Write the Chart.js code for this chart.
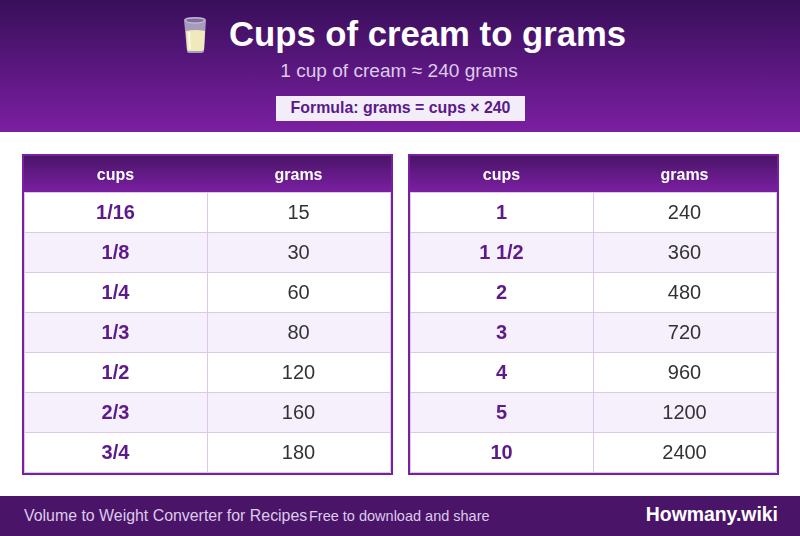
<!DOCTYPE html>
<html><head><meta charset="utf-8">
<script src="https://cdn.jsdelivr.net/npm/chart.js@4"></script>
<style>
html,body{margin:0;padding:0;background:#fff;width:800px;height:536px;overflow:hidden;font-family:"Liberation Sans",Arial,sans-serif}
#hd{position:absolute;left:0;top:0;width:800px;height:132px;background:linear-gradient(180deg,#380f5a,#7b1fa2)}
.t{position:absolute;white-space:nowrap;line-height:1}
#title{left:229px;top:17px;font-size:34.7px;font-weight:700;color:#fff}
#sub{left:0;width:798px;text-align:center;top:61px;font-size:19.1px;color:#dccbeb}
#fbox{position:absolute;left:276px;top:96px;width:249px;height:25px;background:#f3edfa}
#formula{left:276px;width:249px;text-align:center;top:100px;font-size:15.9px;font-weight:700;color:#5a1a8a}
#glass{position:absolute;left:180px;top:14px}
#ft{position:absolute;left:0;top:496px;width:800px;height:40px;background:#4a1568}
#f1{left:24px;top:12px;font-size:15.9px;color:#dccbeb}
#f2{left:309px;top:13px;font-size:14.5px;color:#dccbeb}
#f3{right:22px;top:9px;font-size:19.4px;font-weight:700;color:#fff}
canvas{position:absolute;display:block}
#wa{position:absolute;left:22px;top:154px;width:371px;height:321px}
#wb{position:absolute;left:408px;top:154px;width:371px;height:321px}
</style></head><body>
<div id="hd">
<svg id="glass" width="30" height="42" viewBox="0 0 30 42">
<path d="M4 6 Q4 3 15 3 Q26 3 26 6 L24 37 Q24 39 20 39 L10 39 Q7 39 7 37 Z" fill="#a89cbd"/>
<path d="M6 17 Q15 15 25 17 L24 35 Q24 37 20 37 L10 37 Q7 37 7 35 Z" fill="#efe9bc"/>
<path d="M8 18 L9 35 L11 35 L10 18 Z" fill="#fbf9e6"/>
<path d="M5.5 6 Q5.5 4 15 4 Q24.5 4 24.5 6 Q24.5 9 15 9 Q5.5 9 5.5 6 Z" fill="#7f6f9d" stroke="#cfc7dc" stroke-width="1"/>
</svg>
<div class="t" id="title">Cups of cream to grams</div>
<div class="t" id="sub">1 cup of cream ≈ 240 grams</div>
<div id="fbox"></div>
<div class="t" id="formula">Formula: grams = cups × 240</div>
</div>
<div id="wa"><canvas id="ca"></canvas></div>
<div id="wb"><canvas id="cb"></canvas></div>
<div id="ft">
<div class="t" id="f1">Volume to Weight Converter for Recipes</div>
<div class="t" id="f2">Free to download and share</div>
<div class="t" id="f3">Howmany.wiki</div>
</div>
<script>
const columns = ['cups', 'grams'];
const cupsLeft = ['1/16', '1/8', '1/4', '1/3', '1/2', '2/3', '3/4'];
const gramsLeft = [15, 30, 60, 80, 120, 160, 180];
const cupsRight = ['1', '1 1/2', '2', '3', '4', '5', '10'];
const gramsRight = [240, 360, 480, 720, 960, 1200, 2400];

const FONT = '"Liberation Sans", Arial, sans-serif';
const tablePlugin = {
  id: 'tableCells',
  beforeDraw(chart) {
    const c = chart.ctx, a = chart.chartArea, y = chart.scales.y, W = chart.width, H = chart.height;
    c.save();
    c.fillStyle = '#7b1fa2';
    c.fillRect(0, 0, W, H);
    c.fillStyle = '#fff';
    c.fillRect(2, 2, W - 4, H - 4);
    const g = c.createLinearGradient(0, 2, 0, a.top);
    g.addColorStop(0, '#4a1568');
    g.addColorStop(1, '#7b1fa2');
    c.fillStyle = g;
    c.fillRect(2, 2, W - 4, a.top - 2);
    const n = y.ticks.length, h = (a.bottom - a.top) / n;
    c.fillStyle = '#f5f0fb';
    y.ticks.forEach((t, i) => {
      if (i % 2 === 1) c.fillRect(a.left, y.getPixelForTick(i) - h / 2, a.right - a.left, h);
    });
    c.restore();
  },
  afterDatasetsDraw(chart) {
    const c = chart.ctx;
    c.save();
    c.textAlign = 'center';
    c.textBaseline = 'middle';
    chart.data.datasets.forEach((ds, di) => {
      c.font = (di === 0 ? 'bold ' : '') + '20px ' + FONT;
      c.fillStyle = di === 0 ? '#5e1a8b' : '#333333';
      chart.getDatasetMeta(di).data.forEach((el, i) => {
        c.fillText(String(ds.data[i].text), el.x, el.y + 1);
      });
    });
    c.restore();
  }
};

function makeTable(id, cups, grams) {
  new Chart(document.getElementById(id), {
    type: 'line',
    data: {
      datasets: [
        { data: cups.map((v, i) => ({ x: columns[0], y: v, text: v })), showLine: false, pointRadius: 0 },
        { data: cups.map((v, i) => ({ x: columns[1], y: v, text: grams[i] })), showLine: false, pointRadius: 0 }
      ]
    },
    options: {
      responsive: false, animation: false, maintainAspectRatio: false,
      layout: { padding: { left: 2, right: 3, top: 2, bottom: 3 } },
      plugins: { legend: { display: false }, tooltip: { enabled: false }, title: { display: false } },
      scales: {
        x: {
          type: 'category', labels: columns, position: 'top', offset: true,
          grid: { offset: true, color: '#dcc9ea', drawTicks: false, lineWidth: 1 },
          border: { display: false },
          ticks: { color: '#ffffff', font: { family: FONT, size: 16, weight: 'bold' }, padding: 7, maxRotation: 0 },
          afterFit(s) { s.height = 36; }
        },
        y: {
          type: 'category', labels: cups, offset: true,
          grid: { offset: true, color: '#dcc9ea', drawTicks: false, lineWidth: 1 },
          border: { display: false },
          ticks: { display: false },
          afterFit(s) { s.width = 0; }
        }
      }
    },
    plugins: [tablePlugin]
  });
}
function size(id){const c=document.getElementById(id);c.width=371;c.height=321;c.style.width='371px';c.style.height='321px';}
size('ca');size('cb');
makeTable('ca', cupsLeft, gramsLeft);
makeTable('cb', cupsRight, gramsRight);
</script>
</body></html>
